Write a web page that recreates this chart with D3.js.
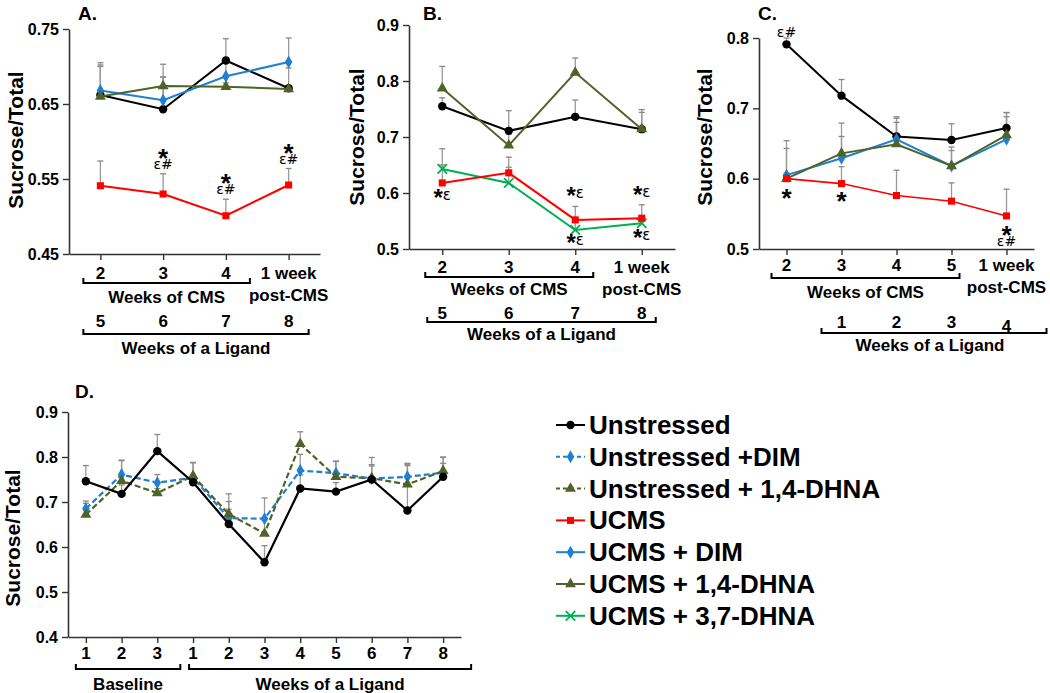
<!DOCTYPE html>
<html>
<head>
<meta charset="utf-8">
<script src="https://cdn.jsdelivr.net/npm/d3@7"></script>
<style>
  body { margin: 0; background: #fff; }
  svg { font-family: "Liberation Sans", Arial, sans-serif; }
  .tick text { font-size: 16px; font-weight: bold; }
</style>
</head>
<body>
<div id="chart"></div>
<script>
// ---- data ----
// panel A
var weeksA = ["2", "3", "4", "1 week|post-CMS"];
var ligandA = ["5", "6", "7", "8"];
var unstressedA = [0.662, 0.643, 0.708, 0.671];
var unstressedAErr = [0.040, 0.043, 0.029, 0.027];
var ucmsA = [0.541, 0.530, 0.501, 0.542];
var ucmsAErr = [0.033, 0.027, 0.022, 0.022];
var ucmsDimA = [0.668, 0.655, 0.687, 0.706];
var ucmsDimAErr = [0.032, 0.048, 0.025, 0.032];
var ucmsDhna14A = [0.660, 0.674, 0.673, 0.670];
var ucmsDhna14AErr = [0.045, 0.012, 0.005, 0.004];
var yTicksA = [0.45, 0.55, 0.65, 0.75];

// panel B
var weeksB = ["2", "3", "4", "1 week|post-CMS"];
var ligandB = ["5", "6", "7", "8"];
var unstressedB = [0.755, 0.711, 0.736, 0.714];
var unstressedBErr = [0.015, 0.036, 0.030, 0.035];
var ucmsB = [0.618, 0.636, 0.552, 0.555];
var ucmsBErr = [0.032, 0.028, 0.024, 0.024];
var ucmsDhna14B = [0.787, 0.685, 0.815, 0.714];
var ucmsDhna14BErr = [0.039, 0.020, 0.026, 0.030];
var ucmsDhna37B = [0.643, 0.618, 0.534, 0.546];
var ucmsDhna37BErr = [0.036, 0.028, 0.020, 0.012];
var yTicksB = [0.5, 0.6, 0.7, 0.8, 0.9];

// panel C
var weeksC = ["2", "3", "4", "5", "1 week|post-CMS"];
var ligandC = ["", "1", "2", "3", "4"];
var unstressedC = [0.791, 0.718, 0.660, 0.655, 0.672];
var unstressedCErr = [0.009, 0.023, 0.028, 0.023, 0.022];
var ucmsC = [0.600, 0.593, 0.576, 0.568, 0.547];
var ucmsCErr = [0.008, 0.024, 0.036, 0.026, 0.038];
var ucmsDimC = [0.605, 0.629, 0.656, 0.618, 0.656];
var ucmsDimCErr = [0.049, 0.050, 0.030, 0.027, 0.038];
var ucmsDhna14C = [0.600, 0.636, 0.649, 0.618, 0.662];
var ucmsDhna14CErr = [0.043, 0.024, 0.031, 0.022, 0.026];
var yTicksC = [0.5, 0.6, 0.7, 0.8];

// panel D
var weeksD = ["b1", "b2", "b3", "l1", "l2", "l3", "l4", "l5", "l6", "l7", "l8"];
var weekLabelsD = ["1", "2", "3", "1", "2", "3", "4", "5", "6", "7", "8"];
var unstressedD = [0.746, 0.718, 0.813, 0.744, 0.651, 0.566, 0.730, 0.723, 0.750, 0.681, 0.756];
var unstressedDErr = [0.035, 0.020, 0.037, 0.010, 0.050, 0.037, 0.030, 0.020, 0.030, 0.100, 0.030];
var unstressedDimD = [0.685, 0.761, 0.743, 0.754, 0.664, 0.663, 0.770, 0.764, 0.752, 0.756, 0.765];
var unstressedDimDErr = [0.017, 0.032, 0.018, 0.033, 0.020, 0.046, 0.036, 0.026, 0.047, 0.030, 0.035];
var unstressedDhna14D = [0.672, 0.747, 0.720, 0.758, 0.673, 0.630, 0.829, 0.756, 0.753, 0.739, 0.769];
var unstressedDhna14DErr = [0.025, 0.045, 0.010, 0.030, 0.045, 0.030, 0.027, 0.035, 0.030, 0.045, 0.030];
var yTicksD = [0.4, 0.5, 0.6, 0.7, 0.8, 0.9];

var legendNames = ["Unstressed", "Unstressed +DIM", "Unstressed + 1,4-DHNA", "UCMS",
                   "UCMS + DIM", "UCMS + 1,4-DHNA", "UCMS + 3,7-DHNA"];

// ---- styles ----
var styles = {
  "Unstressed":            {color: "#000000", marker: "circle",   dash: null},
  "Unstressed +DIM":       {color: "#1f7fd0", marker: "diamond",  dash: "6,3"},
  "Unstressed + 1,4-DHNA": {color: "#4f6228", marker: "triangle", dash: "6,3"},
  "UCMS":                  {color: "#ff0000", marker: "square",   dash: null},
  "UCMS + DIM":            {color: "#1f7fd0", marker: "diamond",  dash: null},
  "UCMS + 1,4-DHNA":       {color: "#4f6228", marker: "triangle", dash: null},
  "UCMS + 3,7-DHNA":       {color: "#00b050", marker: "x",        dash: null}
};

var svg = d3.select("#chart").append("svg")
    .attr("width", 1050)
    .attr("height", 693);

function drawMarker(g, type, color, cx, cy) {
  var sym;
  if (type == "circle") {
    g.append("circle").attr("cx", cx).attr("cy", cy).attr("r", 4.2).attr("fill", color);
    return;
  }
  if (type == "diamond") sym = d3.symbol().type(d3.symbolDiamond).size(48);
  if (type == "triangle") sym = d3.symbol().type(d3.symbolTriangle).size(52);
  if (type == "square") sym = d3.symbol().type(d3.symbolSquare).size(50);
  if (type == "x") {
    g.append("path").attr("d", d3.symbol().type(d3.symbolTimes).size(60)())
      .attr("transform", "translate(" + cx + "," + cy + ")")
      .attr("fill", "none").attr("stroke", color).attr("stroke-width", 1.8);
    return;
  }
  g.append("path").attr("d", sym())
    .attr("transform", "translate(" + cx + "," + cy + ")")
    .attr("fill", color);
}

function drawPanel(p) {
  var g = svg.append("g");
  var x = d3.scalePoint().domain(p.cats).range(p.xRange).padding(0.5);
  var y = d3.scaleLinear().domain(p.yDomain).range(p.yRange);

  // y axis
  g.append("g")
      .attr("transform", "translate(" + p.xRange[0] + ",0)")
      .call(d3.axisLeft(y).tickValues(p.yTicks).tickSize(6).tickSizeOuter(0)
        .tickFormat(function(d) { return p.yFormat(d); }))
      .call(function(a) {
        a.select(".domain").attr("stroke", "#333").attr("stroke-width", 1.6);
        a.selectAll(".tick line").attr("stroke", "#333").attr("stroke-width", 1.4);
        a.selectAll(".tick text").attr("x", -10).attr("fill", "#000");
      });

  // x axis
  var xa = g.append("g")
      .attr("transform", "translate(0," + p.yRange[0] + ")")
      .call(d3.axisBottom(x).tickSize(6).tickSizeOuter(0).tickFormat(""));
  xa.select(".domain").attr("stroke", "#333").attr("stroke-width", 1.6);
  xa.selectAll(".tick line").attr("stroke", "#333").attr("stroke-width", 1.4);

  // category labels (row 1)
  p.cats.forEach(function(c, i) {
    var lines = p.catLabels[i].split("|");
    var t = g.append("text")
        .attr("x", x(c))
        .attr("y", p.yRange[0] + p.labelDy)
        .attr("text-anchor", "middle")
        .attr("font-size", 17).attr("font-weight", "bold");
    lines.forEach(function(l, j) {
      t.append("tspan").attr("x", x(c)).attr("dy", j == 0 ? 0 : 22).text(l);
    });
  });

  // second row of numbers
  if (p.row2) {
    p.cats.forEach(function(c, i) {
      g.append("text")
        .attr("x", x(c))
        .attr("y", p.row2Y + (i == p.cats.length - 1 ? p.row2LastDy : 0))
        .attr("text-anchor", "middle")
        .attr("font-size", 17).attr("font-weight", "bold")
        .text(p.row2[i]);
    });
  }

  // brackets and their titles
  p.brackets.forEach(function(b) {
    var x0 = x(p.cats[b.from]) + b.dx0, x1 = x(p.cats[b.to]) + b.dx1;
    g.append("path")
      .attr("d", "M" + x0 + "," + (b.y - 5) + "V" + b.y + "H" + x1 + "V" + (b.y - 5))
      .attr("fill", "none").attr("stroke", "#000").attr("stroke-width", 2);
    g.append("text")
      .attr("x", b.tx != null ? b.tx : (x0 + x1) / 2)
      .attr("y", b.ty)
      .attr("text-anchor", "middle")
      .attr("font-size", 17).attr("font-weight", "bold")
      .text(b.label);
  });

  // y label
  g.append("text")
    .attr("transform", "translate(" + p.yLabelX + "," + p.yLabelY + ") rotate(-90)")
    .attr("text-anchor", "middle")
    .attr("font-size", 21).attr("font-weight", "bold")
    .text("Sucrose/Total");

  // panel letter
  g.append("text")
    .attr("x", p.titleX).attr("y", p.titleY)
    .attr("font-size", 19).attr("font-weight", "bold")
    .text(p.title);

  // error bars (upper only)
  p.series.forEach(function(s) {
    s.values.forEach(function(v, i) {
      var cx = x(p.cats[i]), y0 = y(v), y1 = y(v + s.err[i]);
      g.append("line").attr("x1", cx).attr("x2", cx).attr("y1", y0).attr("y2", y1)
        .attr("stroke", "#999").attr("stroke-width", 1.3);
      g.append("line").attr("x1", cx - 3).attr("x2", cx + 3).attr("y1", y1).attr("y2", y1)
        .attr("stroke", "#888").attr("stroke-width", 1.3);
    });
  });

  // lines and markers
  p.series.forEach(function(s) {
    var st = styles[s.name];
    var line = d3.line()
        .x(function(d, i) { return x(p.cats[i]); })
        .y(function(d) { return y(d); });
    g.append("path")
      .datum(s.values)
      .attr("d", line)
      .attr("fill", "none")
      .attr("stroke", st.color)
      .attr("stroke-width", s.width || 2)
      .attr("stroke-dasharray", st.dash);
    s.values.forEach(function(v, i) {
      drawMarker(g, st.marker, st.color, x(p.cats[i]), y(v));
    });
  });

  // significance marks, dy = baseline offset from the anchor point
  (p.notes || []).forEach(function(n) {
    var s = p.series[n.s];
    var base = n.top ? s.values[n.i] + s.err[n.i] : s.values[n.i];
    var cx = x(p.cats[n.i]);
    var by = y(base) + n.dy;
    if (n.type == "star") {
      g.append("text").attr("x", cx).attr("y", by)
        .attr("text-anchor", "middle").attr("font-size", 26).attr("font-weight", "bold")
        .text("*");
    }
    if (n.type == "stack") {
      // star sitting just above the ε# line, kept in one text element
      var st = g.append("text").attr("x", cx).attr("y", by - 2)
        .attr("text-anchor", "middle");
      st.append("tspan").attr("font-size", 26).attr("font-weight", "bold").text("*");
      st.append("tspan").attr("x", cx).attr("dy", 2).attr("font-size", 14)
        .attr("font-family", "DejaVu Sans, sans-serif").text("ε#");
    }
    if (n.type == "text") {
      g.append("text").attr("x", cx).attr("y", by)
        .attr("text-anchor", "middle").attr("font-size", 14)
        .attr("font-family", "DejaVu Sans, sans-serif")
        .text("ε#");
    }
    if (n.type == "combo") {
      var t = g.append("text").attr("x", cx).attr("y", by)
        .attr("text-anchor", "middle");
      t.append("tspan").attr("font-size", 24).attr("font-weight", "bold")
        .attr("dy", 6).text("*");
      t.append("tspan").attr("font-size", 15)
        .attr("font-family", "DejaVu Sans, sans-serif")
        .attr("dy", -6).text("ε");
    }
  });
}

// panel A
drawPanel({
  title: "A.", titleX: 78, titleY: 20,
  cats: weeksA, catLabels: weeksA,
  xRange: [69, 320], yRange: [254, 29], yDomain: [0.45, 0.75],
  yTicks: yTicksA, yFormat: d3.format(".2f"),
  labelDy: 25, row2: ligandA, row2Y: 327, row2LastDy: 0,
  brackets: [
    {from: 0, to: 2, dx0: -17, dx1: 24, y: 283, ty: 303, label: "Weeks of CMS"},
    {from: 0, to: 3, dx0: -17, dx1: 20, y: 334, ty: 354, label: "Weeks of a Ligand"}
  ],
  yLabelX: 23, yLabelY: 140,
  series: [
    {name: "Unstressed", values: unstressedA, err: unstressedAErr},
    {name: "UCMS + DIM", values: ucmsDimA, err: ucmsDimAErr},
    {name: "UCMS + 1,4-DHNA", values: ucmsDhna14A, err: ucmsDhna14AErr},
    {name: "UCMS", values: ucmsA, err: ucmsAErr}
  ],
  notes: [
    {type: "stack", s: 3, i: 1, top: true, dy: -5},
    {type: "stack", s: 3, i: 2, top: true, dy: -5},
    {type: "stack", s: 3, i: 3, top: true, dy: -5}
  ]
});

// panel B
drawPanel({
  title: "B.", titleX: 423, titleY: 20,
  cats: weeksB, catLabels: weeksB,
  xRange: [409, 675], yRange: [249, 25], yDomain: [0.5, 0.9],
  yTicks: yTicksB, yFormat: d3.format(".1f"),
  labelDy: 24, row2: ligandB, row2Y: 319, row2LastDy: 0,
  brackets: [
    {from: 0, to: 2, dx0: -17, dx1: 18, y: 277, ty: 295, label: "Weeks of CMS"},
    {from: 0, to: 3, dx0: -15, dx1: 14, y: 322, ty: 340, label: "Weeks of a Ligand"}
  ],
  yLabelX: 364, yLabelY: 137,
  series: [
    {name: "Unstressed", values: unstressedB, err: unstressedBErr},
    {name: "UCMS + 1,4-DHNA", values: ucmsDhna14B, err: ucmsDhna14BErr},
    {name: "UCMS + 3,7-DHNA", values: ucmsDhna37B, err: ucmsDhna37BErr},
    {name: "UCMS", values: ucmsB, err: ucmsBErr}
  ],
  notes: [
    {type: "combo", s: 3, i: 0, top: false, dy: 17},
    {type: "combo", s: 3, i: 2, top: true, dy: -8},
    {type: "combo", s: 2, i: 2, top: false, dy: 15},
    {type: "combo", s: 3, i: 3, top: true, dy: -8},
    {type: "combo", s: 2, i: 3, top: false, dy: 17}
  ]
});

// panel C
drawPanel({
  title: "C.", titleX: 758, titleY: 20,
  cats: weeksC, catLabels: weeksC,
  xRange: [759, 1034], yRange: [249, 38], yDomain: [0.5, 0.8],
  yTicks: yTicksC, yFormat: d3.format(".1f"),
  labelDy: 22, row2: ligandC, row2Y: 328, row2LastDy: 4,
  brackets: [
    {from: 0, to: 3, dx0: -15, dx1: 8, y: 278, ty: 298, label: "Weeks of CMS"},
    {from: 1, to: 4, dx0: -20, dx1: 40, y: 333, ty: 351, tx: 930, label: "Weeks of a Ligand"}
  ],
  yLabelX: 712, yLabelY: 137,
  series: [
    {name: "Unstressed", values: unstressedC, err: unstressedCErr},
    {name: "UCMS + DIM", values: ucmsDimC, err: ucmsDimCErr},
    {name: "UCMS + 1,4-DHNA", values: ucmsDhna14C, err: ucmsDhna14CErr},
    {name: "UCMS", values: ucmsC, err: ucmsCErr, width: 1.6}
  ],
  notes: [
    {type: "text", s: 0, i: 0, top: false, dy: -7},
    {type: "star", s: 3, i: 0, top: false, dy: 28},
    {type: "star", s: 3, i: 1, top: false, dy: 26},
    {type: "stack", s: 3, i: 4, top: false, dy: 30}
  ]
});

// panel D
drawPanel({
  title: "D.", titleX: 75, titleY: 398,
  cats: weeksD, catLabels: weekLabelsD,
  xRange: [68, 461], yRange: [637, 412], yDomain: [0.4, 0.9],
  yTicks: yTicksD, yFormat: d3.format(".1f"),
  labelDy: 22, row2: null,
  brackets: [
    {from: 0, to: 2, dx0: -10, dx1: 23, y: 669, ty: 690, label: "Baseline"},
    {from: 3, to: 10, dx0: -4, dx1: 28, y: 669, ty: 690, label: "Weeks of a Ligand"}
  ],
  yLabelX: 20, yLabelY: 538,
  series: [
    {name: "Unstressed +DIM", values: unstressedDimD, err: unstressedDimDErr, width: 2.2},
    {name: "Unstressed + 1,4-DHNA", values: unstressedDhna14D, err: unstressedDhna14DErr, width: 2.2},
    {name: "Unstressed", values: unstressedD, err: unstressedDErr, width: 2.2}
  ]
});

// legend
var legend = svg.append("g").attr("transform", "translate(556,425)");
legendNames.forEach(function(name, i) {
  var st = styles[name];
  var row = legend.append("g").attr("transform", "translate(0," + (i * 31.8) + ")");
  row.append("line").attr("x1", 0).attr("x2", 29).attr("y1", 0).attr("y2", 0)
    .attr("stroke", st.color).attr("stroke-width", 2)
    .attr("stroke-dasharray", st.dash ? "4,3" : null);
  drawMarker(row, st.marker, st.color, 14.5, 0);
  row.append("text").attr("x", 33).attr("y", 9)
    .attr("font-size", 26).attr("font-weight", "bold")
    .text(name);
});
</script>
</body>
</html>
